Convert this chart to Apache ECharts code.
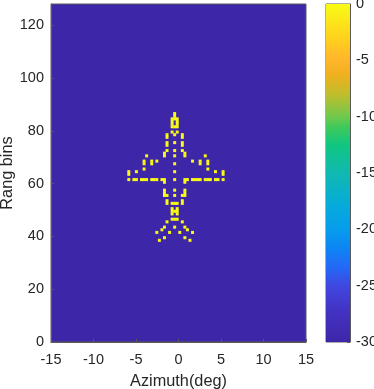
<!DOCTYPE html>
<html><head><meta charset="utf-8">
<style>html,body{margin:0;padding:0;background:#fff}#c{width:374px;height:389px}</style>
<script src="https://cdn.jsdelivr.net/npm/echarts@6/dist/echarts.min.js"></script>
</head><body><div id="c"></div>
<script>
var azimuthTicks = [-15, -10, -5, 0, 5, 10, 15];
var rangeTicks = [0, 20, 40, 60, 80, 100, 120];
var dbTicks = [-30, -25, -20, -15, -10, -5, 0];
var rangeBins = 128, azimuthCols = 100;
// bright cells as [column, row], column 0..99 across -15..15 deg, row 0..127 from the bottom
var centreLine = [[48,86],[48,85],[47,84],[48,84],[49,84],[47,83],[49,83],[47,82],[49,82],[47,81],[48,81],[49,81],
  [47,79],[49,79],[48,78],[48,75],[48,72],[48,70],[48,67],[48,64],[48,61],[48,57],[48,55],
  [47,52],[48,52],[49,52],[47,50],[49,50],[47,49],[48,49],[49,49],[47,48],[49,48],[47,46],[48,46],[49,46],[48,43]];
var fuselageSides = [[45,78],[51,78],[45,77],[51,77],[45,75],[51,75],[45,74],[51,74],[45,72],[51,72],
  [44,71],[52,71],[44,70],[52,70],[44,60],[52,60],[44,57],[52,57],[44,56],[52,56],[44,55],[45,55],[51,55],[52,55],
  [45,53],[51,53],[45,52],[51,52]];
var wings = [[37,70],[60,70],[36,68],[61,68],[36,67],[61,67],[39,68],[58,68],[39,67],[58,67],[41,68],[55,68],
  [36,65],[61,65],[33,64],[64,64],[30,64],[67,64],[30,63],[67,63],
  [30,61],[32,61],[33,61],[35,61],[36,61],[37,61],[39,61],[40,61],[41,61],[43,61],[44,61],
  [52,61],[53,61],[55,61],[56,61],[57,61],[58,61],[60,61],[61,61],[62,61],[64,61],[65,61],[67,61]];
var tail = [[45,45],[51,45],[44,43],[52,43],[43,42],[53,42],[41,41],[55,41],[46,41],[50,41],[44,39],[52,39],[42,38],[54,38]];
var brightCells = centreLine.concat(fuselageSides, wings, tail);
var floorDb = -30, peakDb = 0;
var colorbarDb = [-30,-27,-25,-23.5,-21.5,-20,-18,-15,-12.5,-11,-10,-8,-6.3,-5,-3,0];
var colorbarHex = ['#3e26a8','#4334c6','#3f48e0','#2566f5','#0b88f4','#069cec','#05aadc','#10b9b0','#10c680','#3cc95c','#70c94c','#c0bd2c','#efb01f','#ffb52c','#ffd21c','#f9fb15'];

var frame = '#5a5a5a', txt = '#262626';
var font = 'Liberation Sans';
var grow = 0.2; // JPEG bloom of the bright cells in the reference, in px
function rectItem(api, x0, y0, x1, y1, fill, g) {
  var a = api.coord([x0, y0]), b = api.coord([x1, y1]);
  return {type:'rect', shape:{x:a[0]-g, y:b[1]-g, width:b[0]-a[0]+2*g, height:a[1]-b[1]+2*g}, style:{fill:fill}};
}
var dx = 30 / azimuthCols;
function axisBase(ticks, margin) {
  return {
    nameMoveOverlap:false,
    axisLine:{show:true,onZero:false,lineStyle:{color:frame,width:1}},
    axisTick:{show:true,inside:true,length:3,customValues:ticks,lineStyle:{color:frame,width:1}},
    axisLabel:{color:txt,fontFamily:font,fontSize:14.5,customValues:ticks,margin:margin,hideOverlap:false},
    splitLine:{show:false}, nameTextStyle:{color:txt,fontFamily:font,fontSize:16.3}
  };
}
var chart = echarts.init(document.getElementById('c'), null, {renderer:'canvas'});
chart.setOption({
  animation:false,
  backgroundColor:'#fff',
  grid:[
    {left:51,top:4,width:255,height:338,show:true,outerBoundsMode:'none',borderColor:frame,borderWidth:1,backgroundColor:colorbarHex[0]},
    {left:326,top:4,width:24,height:338,show:true,outerBoundsMode:'none',borderColor:frame,borderWidth:1,backgroundColor:'#fff'}
  ],
  xAxis:[
    Object.assign(axisBase(azimuthTicks,10),{type:'value',gridIndex:0,min:-15,max:15,name:'Azimuth(deg)',nameLocation:'middle',nameGap:32}),
    {type:'value',gridIndex:1,min:0,max:1,show:false}
  ],
  yAxis:[
    Object.assign(axisBase(rangeTicks,7),{type:'value',gridIndex:0,min:0,max:rangeBins,name:'Rang bins',nameLocation:'middle',nameGap:35}),
    Object.assign(axisBase(dbTicks,6),{type:'value',gridIndex:1,min:floorDb,max:peakDb,position:'right'})
  ],
  series:[
    {type:'custom',xAxisIndex:0,yAxisIndex:0,clip:true,data:brightCells,
     encode:{x:0,y:1},
     renderItem:function(p,api){
       var c=api.value(0), r=api.value(1), x=-15+c*dx;
       return rectItem(api,x,r,x+dx,r+1,'#f9fb15',grow);
     }},
    {type:'custom',xAxisIndex:1,yAxisIndex:1,data:[[0,floorDb]],
     encode:{x:0,y:1},
     renderItem:function(p,api){
       var it=rectItem(api,0,floorDb,1,peakDb,'#000',0);
       it.style.fill=new echarts.graphic.LinearGradient(0,1,0,0,colorbarHex.map(function(col,i){return {offset:(colorbarDb[i]-floorDb)/(peakDb-floorDb),color:col};}));
       return it;
     }}
  ]
});
</script></body></html>
